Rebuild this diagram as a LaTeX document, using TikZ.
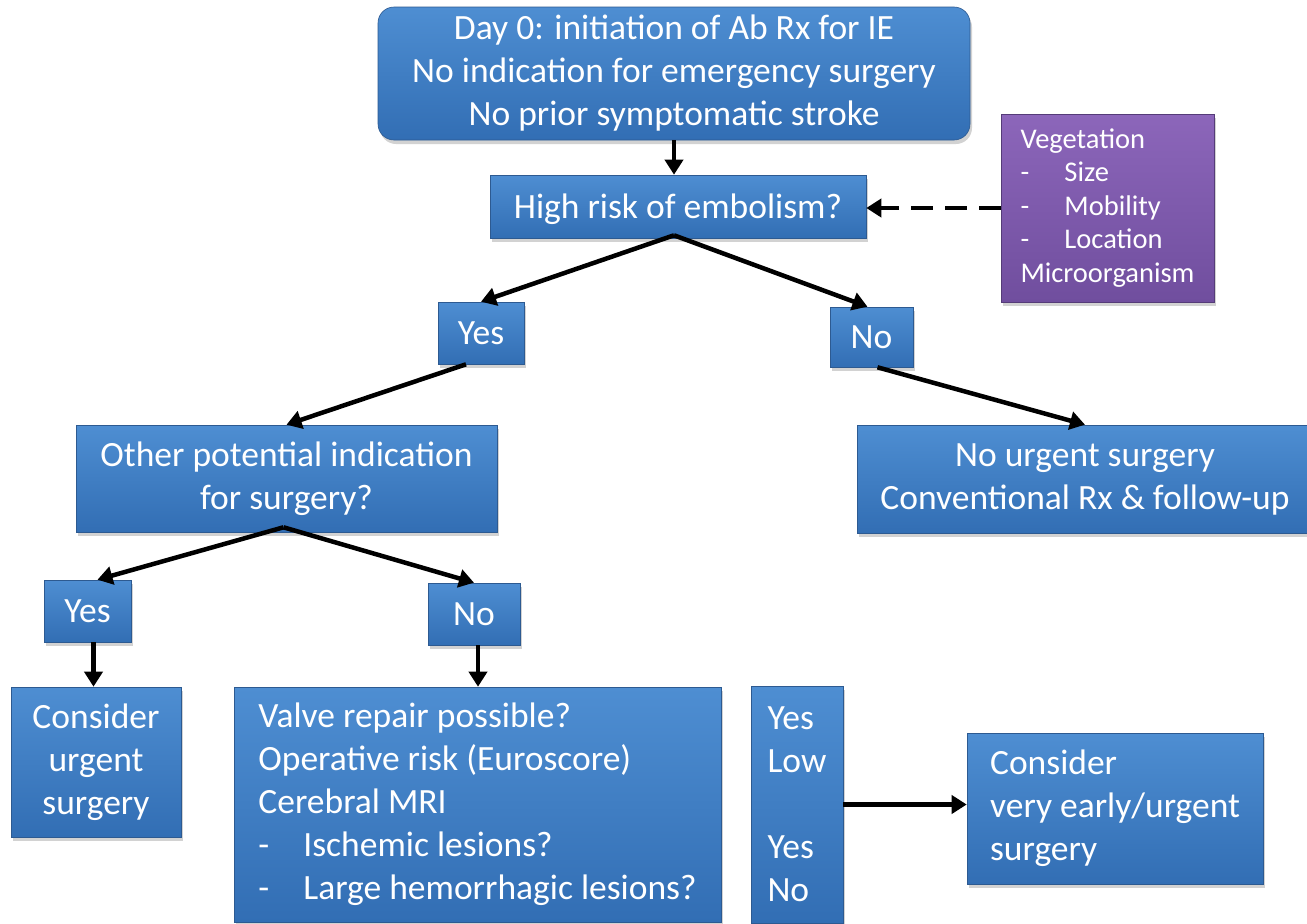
\documentclass[tikz,border=0pt]{standalone}
\usepackage{fontspec}
\setmainfont{Carlito}
\usetikzlibrary{arrows.meta,shadows,calc}
\definecolor{bluetop}{RGB}{78,142,210}
\definecolor{bluebot}{RGB}{50,110,180}
\definecolor{blueedge}{RGB}{45,90,145}
\definecolor{purptop}{RGB}{140,102,186}
\definecolor{purpbot}{RGB}{112,78,158}
\definecolor{purpedge}{RGB}{85,60,120}
\begin{document}
\begin{tikzpicture}[x=1pt,y=-1pt,
  box/.style={draw=blueedge, line width=0.6pt, top color=bluetop, bottom color=bluebot,
    text=white, font=\fontsize{35.5}{43}\selectfont, align=center, inner sep=0pt,
    drop shadow={shadow xshift=2pt, shadow yshift=-4pt, opacity=0.35}},
  pbox/.style={box, draw=purpedge, top color=purptop, bottom color=purpbot,
    font=\fontsize{28.5}{33.5}\selectfont, align=left},
  conn/.style={line width=4.5pt, -{Triangle[length=15pt,width=18pt]}},
  dconn/.style={conn, dash pattern=on 22pt off 12pt}]
\fill[white] (0,0) rectangle (1307,924);
\useasboundingbox (0,0) rectangle (1307,924);

\node[box, rounded corners=16pt, minimum width=592pt, minimum height=133pt] (top) at (674,73.5)
  {Day 0: initiation of Ab Rx for IE\\No indication for emergency surgery\\No prior symptomatic stroke};
\node[box, minimum width=376pt, minimum height=63pt, execute at begin node={\rule{0pt}{31pt}}] (risk) at (678,206.5) {High risk of embolism?};
\node[pbox, minimum width=213pt, minimum height=188pt] (veg) at (1107.5,208)
  {Vegetation\\\makebox[44pt][l]{-}Size\\\makebox[44pt][l]{-}Mobility\\\makebox[44pt][l]{-}Location\\Microorganism};
\node[box, minimum width=86pt, minimum height=62pt] (yes1) at (481,333) {Yes};
\node[box, minimum width=83pt, minimum height=60pt] (no1) at (871.5,337) {No};
\node[box, minimum width=421pt, minimum height=107pt] (other) at (286.5,478.5)
  {Other potential indication\\for surgery?};
\node[box, minimum width=456pt, minimum height=108pt] (nosurg) at (1085,479)
  {No urgent surgery\\Conventional Rx \& follow-up};
\node[box, minimum width=87pt, minimum height=62pt] (yes2) at (87.5,611) {Yes};
\node[box, minimum width=92pt, minimum height=62pt] (no2) at (474,614) {No};
\node[box, minimum width=170pt, minimum height=150pt] (consu) at (96,762)
  {Consider\\urgent\\surgery};
\node[box, align=left, minimum width=487pt, minimum height=235pt] (valve) at (477.5,804.5)
  {Valve repair possible?\\Operative risk (Euroscore)\\Cerebral MRI\\\makebox[45pt][l]{-}Ischemic lesions?\\\makebox[45pt][l]{-}Large hemorrhagic lesions?};
\node[box, align=left, minimum width=92pt, minimum height=237pt] (yl) at (797,804.5)
  {Yes\\Low\\\mbox{}\\Yes\\No};
\node[box, align=left, minimum width=296pt, minimum height=151pt] (conse) at (1115,808.5)
  {Consider\\very early/urgent\\surgery};

\draw[conn] (top.south) -- (top.south |- risk.north);
\draw[dconn] (veg.west) -- (veg.west -| risk.east);
\draw[conn] ([xshift=-4pt,yshift=3pt]risk.south) -- (yes1.north);
\draw[conn] ([xshift=-4pt,yshift=3pt]risk.south) -- ([xshift=-4pt]no1.north);
\draw[conn] ([xshift=-15pt]yes1.south) -- (other.north);
\draw[conn] ([xshift=6pt]no1.south) -- (nosurg.north);
\draw[conn] ([xshift=-3pt,yshift=5pt]other.south) -- ([xshift=10pt]yes2.north);
\draw[conn] ([xshift=-3pt,yshift=5pt]other.south) -- (no2.north);
\draw[conn] ([xshift=6pt]yes2.south) -- ([xshift=6pt]yes2.south |- consu.north);
\draw[conn] ([xshift=4pt]no2.south) -- ([xshift=4pt]no2.south |- valve.north);
\draw[conn] (yl.east) -- (yl.east -| conse.west);
\end{tikzpicture}
\end{document}
